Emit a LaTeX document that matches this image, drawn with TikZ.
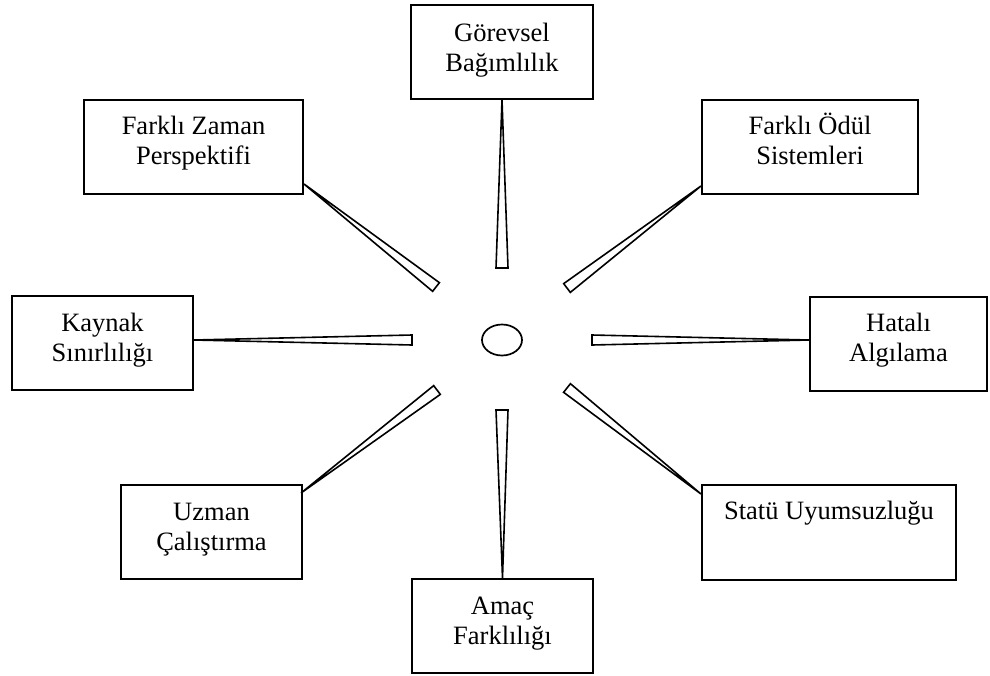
\documentclass[tikz,border=0pt]{standalone}
\usepackage{fontspec}
\setmainfont{Liberation Serif}
\usetikzlibrary{calc,shapes.geometric}
\begin{document}
\begin{tikzpicture}[x=1pt,y=-1pt,
  box/.style={draw,line width=2pt,inner sep=0pt,minimum height=94pt},
  lbl/.style={align=center,font=\fontsize{26.5}{30}\selectfont,inner sep=0pt,anchor=base},
  spoke/.style={draw,fill=white,line width=1.6pt,line join=miter}]
\useasboundingbox (0,0) rectangle (990,675);

% boxes around the hub
\node[box,minimum width=182pt] (gb) at (502,52) {};
\node[box,minimum width=219pt] (fz) at (193.5,147) {};
\node[box,minimum width=216pt] (fo) at (810,147) {};
\node[box,minimum width=181pt] (ks) at (102.5,343) {};
\node[box,minimum width=177pt] (ha) at (898.5,343.5) {};
\node[box,minimum width=254pt,minimum height=95pt] (st) at (829,532.5) {};
\node[box,minimum width=181pt] (uz) at (211.5,532) {};
\node[box,minimum width=181pt] (am) at (502.5,626) {};

% box texts; the base anchor sits on the last line
\node[lbl] (gbt) at ($(gb.north)+(0,67)$) {Görevsel\\Bağımlılık};
\node[lbl] (fzt) at ($(fz.north)+(0,65)$) {Farklı Zaman\\Perspektifi};
\node[lbl] (fot) at ($(fo.north)+(0,65)$) {Farklı Ödül\\Sistemleri};
\node[lbl] (kst) at ($(ks.north)+(0,66)$) {Kaynak\\Sınırlılığı};
\node[lbl] (hat) at ($(ha.north)+(0,66)$) {Hatalı\\Algılama};
\node[lbl] (stt) at ($(st.north)+(0,35)$) {Statü Uyumsuzluğu};
\node[lbl] (uzt) at ($(uz.north)+(0,66)$) {Uzman\\Çalıştırma};
\node[lbl] (amt) at ($(am.north)+(0,66)$) {Amaç\\Farklılığı};

% hub
\node[draw,ellipse,line width=1.7pt,inner sep=0pt,minimum width=40pt,minimum height=31pt] (hub) at (502,340) {};

% spoke tips on the boxes
\coordinate (gbA) at (gb.south);
\coordinate (fzA) at ($(fz.south east)+(0,-11)$);
\coordinate (foA) at ($(fo.south west)+(0,-9)$);
\coordinate (ksA) at ($(ks.east)+(0,-3)$);
\coordinate (haA) at ($(ha.west)+(0,-3.5)$);
\coordinate (stA) at ($(st.north west)+(0,10)$);
\coordinate (uzA) at ($(uz.north west)+(181,9)$);
\coordinate (amA) at (am.north);

% spoke ends near the hub
\coordinate (gbB) at (502,268);
\coordinate (fzB) at (436,287);
\coordinate (foB) at (567,288);
\coordinate (ksB) at (412,340);
\coordinate (haB) at (592,340);
\coordinate (stB) at (567,388);
\coordinate (uzB) at (437,390);
\coordinate (amB) at (502,410);

% tapered spokes
\foreach \s/\w in {gb/6,fz/5.5,fo/5.5,ks/5,ha/5,st/5.5,uz/5.5,am/6}{
  \draw[spoke] (\s A) -- ($(\s B)!\w pt!90:(\s A)$) -- ($(\s B)!\w pt!-90:(\s A)$) -- cycle;
}
\end{tikzpicture}
\end{document}
